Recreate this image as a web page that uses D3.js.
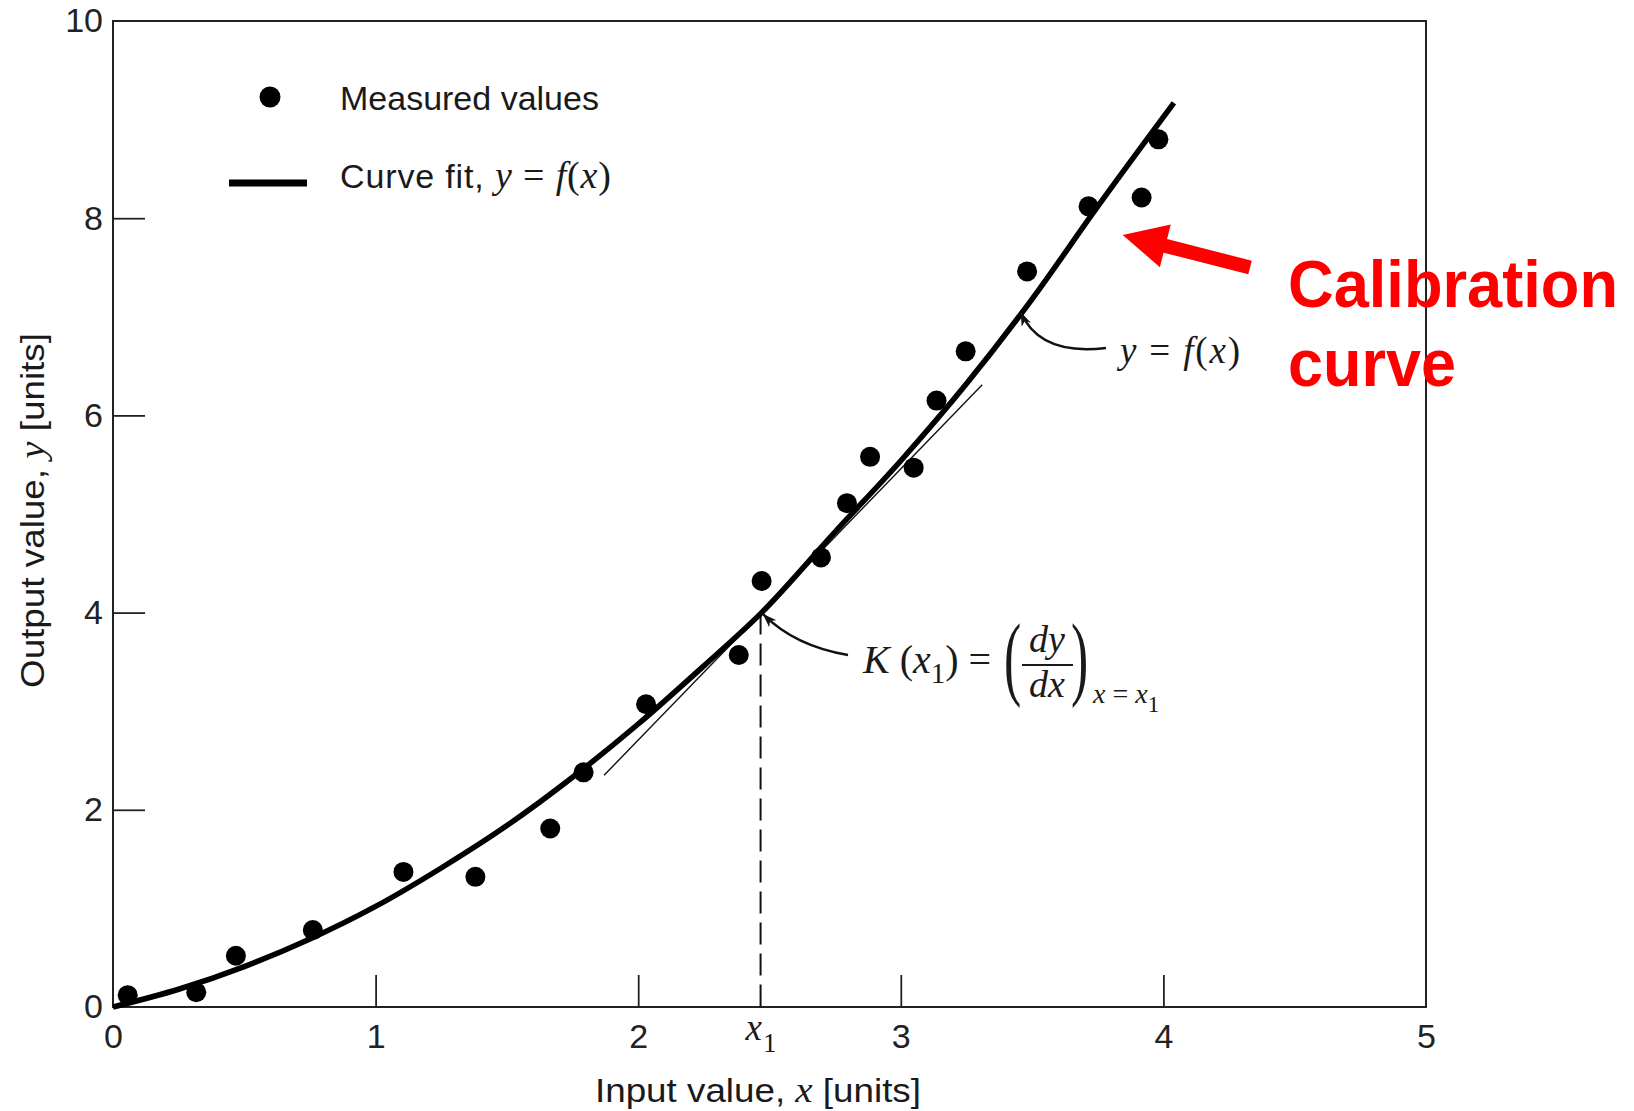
<!DOCTYPE html>
<html>
<head>
<meta charset="utf-8">
<script src="https://cdn.jsdelivr.net/npm/d3@7"></script>
<style>
	body { margin: 0; background: #fff; }
	svg { display: block; }
</style>
</head>
<body>
<svg id="calchart"></svg>
<script>
// values
const xTicks = [0, 1, 2, 3, 4, 5];
const yTicks = [0, 2, 4, 6, 8, 10];

const measuredX = [0.056, 0.317, 0.468, 0.761, 1.106, 1.38, 1.665, 1.792, 2.03, 2.383, 2.47, 2.696, 2.795, 2.883, 3.049, 3.136, 3.247, 3.481, 3.715, 3.917, 3.981];
const measuredY = [0.12, 0.15, 0.52, 0.78, 1.37, 1.32, 1.81, 2.38, 3.07, 3.57, 4.32, 4.56, 5.11, 5.58, 5.47, 6.15, 6.65, 7.46, 8.12, 8.21, 8.80];

const fitX = [0, 0.25, 0.5, 0.75, 1.0, 1.25, 1.5, 1.75, 2.0, 2.25, 2.47, 2.75, 3.0, 3.25, 3.5, 3.75, 4.04];
const fitY = [0, 0.18, 0.41, 0.69, 1.02, 1.41, 1.84, 2.33, 2.87, 3.46, 4.0, 4.82, 5.54, 6.32, 7.18, 8.12, 9.17];

const tangentX = [1.87, 3.31];
const tangentY = [2.35, 6.31];

const x1Value = 2.466;
const x1Output = 4.0;

function makeChart() {
	let w = 1634;
	let h = 1111;
	let left = 113, right = 1426, top = 21, bottom = 1007;

	let sans = '"Liberation Sans", Arial, sans-serif';
	let serif = '"Liberation Serif", "Times New Roman", serif';
	let ink = '#1a1a1a';

	let chart = d3.select('#calchart')
		.attr('width', w)
		.attr('height', h);

	let x = d3.scaleLinear().domain([0, 5]).range([left, right]);
	let y = d3.scaleLinear().domain([0, 10]).range([bottom, top]);

	// frame
	chart.append('rect')
		.attr('x', left)
		.attr('y', top)
		.attr('width', right - left)
		.attr('height', bottom - top)
		.attr('fill', 'none')
		.attr('stroke', '#222')
		.attr('stroke-width', 2);

	// axes, ticks point inwards
	let xAxis = chart.append('g')
		.attr('transform', `translate(0, ${y(0)})`)
		.call(d3.axisBottom(x).tickValues(xTicks).tickSizeInner(-32).tickSizeOuter(0).tickPadding(17).tickFormat(d3.format('d')));
	let yAxis = chart.append('g')
		.attr('transform', `translate(${x(0)}, 0)`)
		.call(d3.axisLeft(y).tickValues(yTicks).tickSizeInner(-32).tickSizeOuter(0).tickPadding(10).tickFormat(d3.format('d')));

	[xAxis, yAxis].forEach(g => {
		g.select('.domain').remove();
		g.attr('font-family', sans).attr('font-size', 34);
		g.selectAll('.tick text').attr('fill', '#222');
		g.selectAll('.tick line').attr('stroke', '#222').attr('stroke-width', 1.8);
	});
	xAxis.selectAll('.tick line').filter(d => d === 0 || d === 5).remove();
	yAxis.selectAll('.tick line').filter(d => d === 0 || d === 10).remove();

	// x1 label under the axis
	let x1Label = chart.append('text')
		.attr('x', x(x1Value) - 15)
		.attr('y', 1040)
		.attr('font-family', serif)
		.attr('fill', ink);
	x1Label.append('tspan').attr('font-style', 'italic').attr('font-size', 37).text('x');
	x1Label.append('tspan').attr('font-size', 27).attr('dy', 12).attr('dx', 1).text('1');

	// axis titles
	let xTitle = chart.append('text')
		.attr('x', 595)
		.attr('y', 1102)
		.attr('font-family', sans)
		.attr('font-size', 34)
		.attr('textLength', 326)
		.attr('lengthAdjust', 'spacingAndGlyphs')
		.attr('fill', ink);
	xTitle.append('tspan').text('Input value, ');
	xTitle.append('tspan').attr('font-family', serif).attr('font-style', 'italic').attr('font-size', 36).text('x');
	xTitle.append('tspan').text(' [units]');

	let yTitle = chart.append('text')
		.attr('transform', 'translate(44, 688) rotate(-90)')
		.attr('font-family', sans)
		.attr('font-size', 34)
		.attr('textLength', 355)
		.attr('lengthAdjust', 'spacingAndGlyphs')
		.attr('fill', ink);
	yTitle.append('tspan').text('Output value, ');
	yTitle.append('tspan').attr('font-family', serif).attr('font-style', 'italic').attr('font-size', 36).text('y');
	yTitle.append('tspan').text(' [units]');

	// dashed drop line at x1
	chart.append('line')
		.attr('x1', x(x1Value))
		.attr('x2', x(x1Value))
		.attr('y1', y(x1Output))
		.attr('y2', y(0))
		.attr('stroke', '#111')
		.attr('stroke-width', 2)
		.attr('stroke-dasharray', '22,9');

	// tangent at x1
	chart.append('line')
		.attr('x1', x(tangentX[0]))
		.attr('y1', y(tangentY[0]))
		.attr('x2', x(tangentX[1]))
		.attr('y2', y(tangentY[1]))
		.attr('stroke', '#111')
		.attr('stroke-width', 1.4);

	// curve fit
	let fitLine = d3.line()
		.x((d, i) => x(fitX[i]))
		.y(d => y(d))
		.curve(d3.curveMonotoneX);
	chart.append('path')
		.attr('d', fitLine(fitY))
		.attr('fill', 'none')
		.attr('stroke', '#000')
		.attr('stroke-width', 5.5);

	// measured points
	chart.selectAll('circle.pt')
		.data(measuredY)
		.enter()
		.append('circle')
		.attr('class', 'pt')
		.attr('cx', (d, i) => x(measuredX[i]))
		.attr('cy', d => y(d))
		.attr('r', 10)
		.attr('fill', '#000');

	// legend
	chart.append('circle')
		.attr('cx', 270).attr('cy', 97).attr('r', 10.5).attr('fill', '#000');
	chart.append('text')
		.attr('x', 340).attr('y', 110)
		.attr('font-family', sans).attr('font-size', 34).attr('fill', ink)
		.text('Measured values');
	chart.append('line')
		.attr('x1', 229).attr('x2', 307).attr('y1', 183).attr('y2', 183)
		.attr('stroke', '#000').attr('stroke-width', 7);
	let fitLegend = chart.append('text')
		.attr('x', 340).attr('y', 188)
		.attr('font-family', sans).attr('font-size', 34)
		.attr('textLength', 271)
		.attr('lengthAdjust', 'spacing')
		.attr('fill', ink);
	fitLegend.append('tspan').text('Curve fit, ');
	fitLegend.append('tspan').attr('font-family', serif).attr('font-style', 'italic').attr('font-size', 38).text('y');
	fitLegend.append('tspan').attr('font-family', serif).attr('font-size', 38).text(' = ');
	fitLegend.append('tspan').attr('font-family', serif).attr('font-style', 'italic').attr('font-size', 38).text('f');
	fitLegend.append('tspan').attr('font-family', serif).attr('font-size', 38).text('(');
	fitLegend.append('tspan').attr('font-family', serif).attr('font-style', 'italic').attr('font-size', 38).text('x');
	fitLegend.append('tspan').attr('font-family', serif).attr('font-size', 38).text(')');

	// small arrowheads for annotations
	chart.append('defs').append('marker')
		.attr('id', 'barb')
		.attr('viewBox', '0 0 14 10')
		.attr('refX', 13)
		.attr('refY', 5)
		.attr('markerWidth', 14)
		.attr('markerHeight', 10)
		.attr('markerUnits', 'userSpaceOnUse')
		.attr('orient', 'auto')
		.append('path')
		.attr('d', 'M0,0 L14,5 L0,10 L4,5 Z')
		.attr('fill', '#111');

	function curvedArrow(from, ctrl, to) {
		let p = d3.path();
		p.moveTo(from[0], from[1]);
		p.quadraticCurveTo(ctrl[0], ctrl[1], to[0], to[1]);
		chart.append('path')
			.attr('d', p.toString())
			.attr('fill', 'none')
			.attr('stroke', '#111')
			.attr('stroke-width', 2.4)
			.attr('marker-end', 'url(#barb)');
	}

	// K(x1) annotation
	let kEnd = [x(x1Value) + 3, y(x1Output) + 2];
	curvedArrow([848, 655], [795, 646], kEnd);

	let kText = chart.append('text')
		.attr('x', 863).attr('y', 673)
		.attr('font-family', serif).attr('font-size', 40).attr('fill', ink);
	kText.append('tspan').attr('font-style', 'italic').text('K');
	kText.append('tspan').text(' (');
	kText.append('tspan').attr('font-style', 'italic').text('x');
	kText.append('tspan').attr('font-size', 29).attr('dy', 10).text('1');
	kText.append('tspan').attr('dy', -10).text(') =');

	// big parentheses
	chart.append('text')
		.attr('transform', 'translate(1004, 688) scale(0.55, 1)')
		.attr('font-family', serif).attr('font-size', 94).attr('fill', ink)
		.text('(');
	chart.append('text')
		.attr('transform', 'translate(1071, 688) scale(0.55, 1)')
		.attr('font-family', serif).attr('font-size', 94).attr('fill', ink)
		.text(')');

	chart.append('text')
		.attr('x', 1047).attr('y', 652)
		.attr('text-anchor', 'middle')
		.attr('font-family', serif).attr('font-style', 'italic').attr('font-size', 38).attr('fill', ink)
		.text('dy');
	chart.append('line')
		.attr('x1', 1022).attr('x2', 1073).attr('y1', 665).attr('y2', 665)
		.attr('stroke', ink).attr('stroke-width', 2);
	chart.append('text')
		.attr('x', 1047).attr('y', 697)
		.attr('text-anchor', 'middle')
		.attr('font-family', serif).attr('font-style', 'italic').attr('font-size', 38).attr('fill', ink)
		.text('dx');

	let sub = chart.append('text')
		.attr('x', 1093).attr('y', 703)
		.attr('font-family', serif).attr('font-size', 28).attr('fill', ink);
	sub.append('tspan').attr('font-style', 'italic').text('x');
	sub.append('tspan').text(' = ');
	sub.append('tspan').attr('font-style', 'italic').text('x');
	sub.append('tspan').attr('font-size', 23).attr('dy', 9).text('1');

	// y = f(x) annotation
	let fEnd = [x(3.458), y(7.04)];
	curvedArrow([1106, 348], [1040, 356], fEnd);

	let fText = chart.append('text')
		.attr('x', 1120).attr('y', 363)
		.attr('font-family', serif).attr('font-size', 37)
		.attr('textLength', 120)
		.attr('lengthAdjust', 'spacing')
		.attr('fill', ink);
	fText.append('tspan').attr('font-style', 'italic').text('y');
	fText.append('tspan').text(' = ');
	fText.append('tspan').attr('font-style', 'italic').text('f');
	fText.append('tspan').text('(');
	fText.append('tspan').attr('font-style', 'italic').text('x');
	fText.append('tspan').text(')');

	// red callout arrow, anchored in data space
	let tip = [x(3.845), y(7.83)];
	let tail = [x(4.33), y(7.50)];
	let dx = tail[0] - tip[0], dy = tail[1] - tip[1];
	let len = Math.hypot(dx, dy);
	let u = [dx / len, dy / len];
	let n = [-u[1], u[0]];
	let headLen = 44, headHalf = 22, shaftHalf = 7;
	let base = [tip[0] + u[0] * headLen, tip[1] + u[1] * headLen];
	let pts = [
		tip,
		[base[0] + n[0] * headHalf, base[1] + n[1] * headHalf],
		[base[0] + n[0] * shaftHalf, base[1] + n[1] * shaftHalf],
		[tail[0] + n[0] * shaftHalf, tail[1] + n[1] * shaftHalf],
		[tail[0] - n[0] * shaftHalf, tail[1] - n[1] * shaftHalf],
		[base[0] - n[0] * shaftHalf, base[1] - n[1] * shaftHalf],
		[base[0] - n[0] * headHalf, base[1] - n[1] * headHalf]
	];
	chart.append('polygon')
		.attr('points', pts.map(p => p.join(',')).join(' '))
		.attr('fill', '#ff0000');

	chart.append('text')
		.attr('x', 1288).attr('y', 307)
		.attr('font-family', sans).attr('font-weight', 'bold').attr('font-size', 66)
		.attr('textLength', 330).attr('lengthAdjust', 'spacingAndGlyphs')
		.attr('fill', '#ff0000')
		.text('Calibration');
	chart.append('text')
		.attr('x', 1288).attr('y', 386)
		.attr('font-family', sans).attr('font-weight', 'bold').attr('font-size', 66)
		.attr('textLength', 168).attr('lengthAdjust', 'spacingAndGlyphs')
		.attr('fill', '#ff0000')
		.text('curve');
}

window.onload = function () {
	makeChart();
}
</script>
</body>
</html>
